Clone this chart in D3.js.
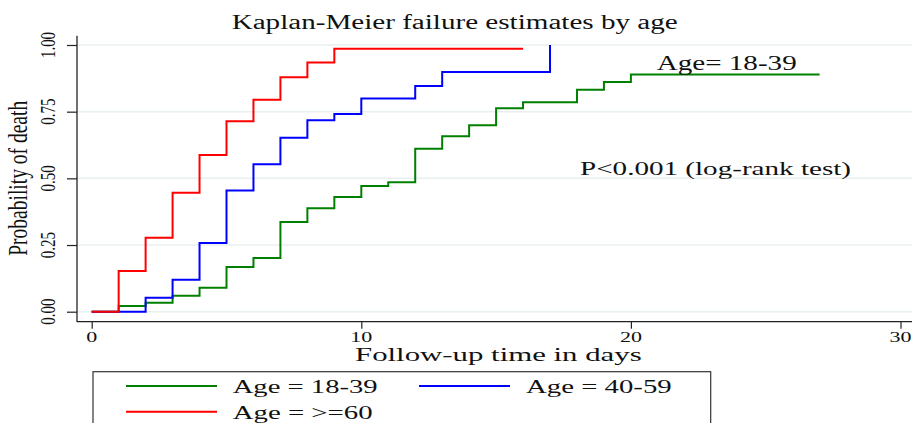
<!DOCTYPE html>
<html><head><meta charset="utf-8">
<script src="https://cdn.jsdelivr.net/npm/d3@7"></script>
<style>body{margin:0;background:#fff}svg{display:block}text{font-family:"Liberation Serif","Times New Roman",serif;fill:#111}</style>
</head><body><svg id="c" width="912" height="423"></svg>
<script>
const title = "Kaplan-Meier failure estimates by age";
const xTitle = "Follow-up time in days";
const yTitle = "Probability of death";
const xTicks = [0, 10, 20, 30];
const yTicks = [0, 0.25, 0.5, 0.75, 1];
const yTickLabels = ["0.00", "0.25", "0.50", "0.75", "1.00"];

const groupNames = ["Age = 18-39", "Age = 40-59", "Age = >=60"];
const groupColors = ["#008000", "#0000ff", "#ff0000"];

const greenTimes = [0,1,2,3,4,5,6,7,8,9,10,11,12,13,14,15,16,18,19,20,27];
const greenFail  = [0,0.021,0.034,0.06,0.09,0.168,0.201,0.336,0.388,0.43,0.471,0.485,0.611,0.658,0.699,0.763,0.785,0.832,0.861,0.889,0.889];
const blueTimes  = [0,2,3,4,5,6,7,8,9,10,12,13,17];
const blueFail   = [0,0.0525,0.12,0.258,0.454,0.553,0.652,0.718,0.741,0.799,0.846,0.899,1.0];
const redTimes   = [0,1,2,3,4,5,6,7,8,9,16];
const redFail    = [0,0.153,0.277,0.446,0.588,0.714,0.795,0.879,0.934,0.986,0.986];

const annotation1 = "Age= 18-39";
const annotation2 = "P<0.001 (log-rank test)";

const svg = d3.select("#c");
const x = d3.scaleLinear().domain([0, 30]).range([91.7, 900.5]);
const y = d3.scaleLinear().domain([0, 1]).range([311.7, 45]);

// gridlines
svg.append("g").selectAll("line").data(yTicks).join("line")
  .attr("x1", 77).attr("x2", 912).attr("y1", d => y(d)).attr("y2", d => y(d))
  .attr("stroke", "#e8eff1").attr("stroke-width", 1.5);

// y axis
const ya = svg.append("g").attr("transform", "translate(77,0)")
  .call(d3.axisLeft(y).tickValues(yTicks).tickSize(10).tickFormat((d,i) => yTickLabels[i]));
ya.select(".domain").remove();
ya.selectAll(".tick line").attr("stroke", "#222").attr("stroke-width", 1.2);
ya.selectAll(".tick text").remove();
svg.append("line").attr("x1", 77).attr("x2", 77).attr("y1", 35.7).attr("y2", 322).attr("stroke", "#222").attr("stroke-width", 1.3);
svg.append("g").selectAll("text").data(yTicks).join("text")
  .attr("transform", d => `translate(55,${y(d)}) scale(1.4,1) rotate(-90)`)
  .attr("text-anchor", "middle").attr("font-size", 15)
  .text((d,i) => yTickLabels[i]);

// x axis
const xa = svg.append("g").attr("transform", "translate(0,321.7)")
  .call(d3.axisBottom(x).tickValues(xTicks).tickSize(7).tickFormat(d3.format("d")));
xa.select(".domain").remove();
xa.selectAll(".tick line").attr("stroke", "#222").attr("stroke-width", 1.2);
xa.selectAll(".tick text").remove();
svg.append("line").attr("x1", 77).attr("x2", 912).attr("y1", 321.7).attr("y2", 321.7).attr("stroke", "#222").attr("stroke-width", 1.3);
svg.append("g").selectAll("text").data(xTicks).join("text")
  .attr("x", d => x(d)).attr("y", 342).attr("text-anchor", "middle").attr("font-size", 14)
  .attr("textLength", d => String(d).length * 11).attr("lengthAdjust", "spacingAndGlyphs")
  .text(d => d);

// curves
const series = [
  {t: greenTimes, v: greenFail},
  {t: blueTimes, v: blueFail},
  {t: redTimes, v: redFail}
];
const line = d3.line().x(d => x(d[0])).y(d => y(d[1])).curve(d3.curveStepAfter);
series.forEach((s, i) => {
  svg.append("path").datum(s.t.map((t, j) => [t, s.v[j]]))
    .attr("d", line).attr("fill", "none").attr("stroke", groupColors[i]).attr("stroke-width", 2);
});

// texts
function stretchedText(txt, x0, x1, yb, fs) {
  svg.append("text").attr("x", x0).attr("y", yb).attr("font-size", fs)
    .attr("textLength", x1 - x0).attr("lengthAdjust", "spacingAndGlyphs").text(txt);
}
stretchedText(title, 231.7, 677.7, 29, 20);
stretchedText(annotation1, 656.7, 796.7, 70, 20);
stretchedText(annotation2, 580, 851, 175, 19);
stretchedText(xTitle, 355, 641.7, 361, 18);

svg.append("text").attr("transform", "translate(27,178.3) scale(1.4,1) rotate(-90)")
  .attr("text-anchor", "middle").attr("font-size", 19.5).text(yTitle);

// legend
svg.append("rect").attr("x", 93).attr("y", 371.7).attr("width", 617.7).attr("height", 80)
  .attr("fill", "none").attr("stroke", "#333").attr("stroke-width", 1.2);
const legendPos = [
  {lx: 126, ly: 386, tx: 232.7, ty: 392.7, tw: 145},
  {lx: 419, ly: 386, tx: 526, ty: 392.7, tw: 145.7},
  {lx: 126, ly: 411.7, tx: 232.7, ty: 418.7, tw: 140}
];
groupNames.forEach((g, i) => {
  const p = legendPos[i];
  svg.append("line").attr("x1", p.lx).attr("x2", p.lx + 91).attr("y1", p.ly).attr("y2", p.ly)
    .attr("stroke", groupColors[i]).attr("stroke-width", 2);
  svg.append("text").attr("x", p.tx).attr("y", p.ty).attr("font-size", 19)
    .attr("textLength", p.tw).attr("lengthAdjust", "spacingAndGlyphs").text(g);
});
</script></body></html>
